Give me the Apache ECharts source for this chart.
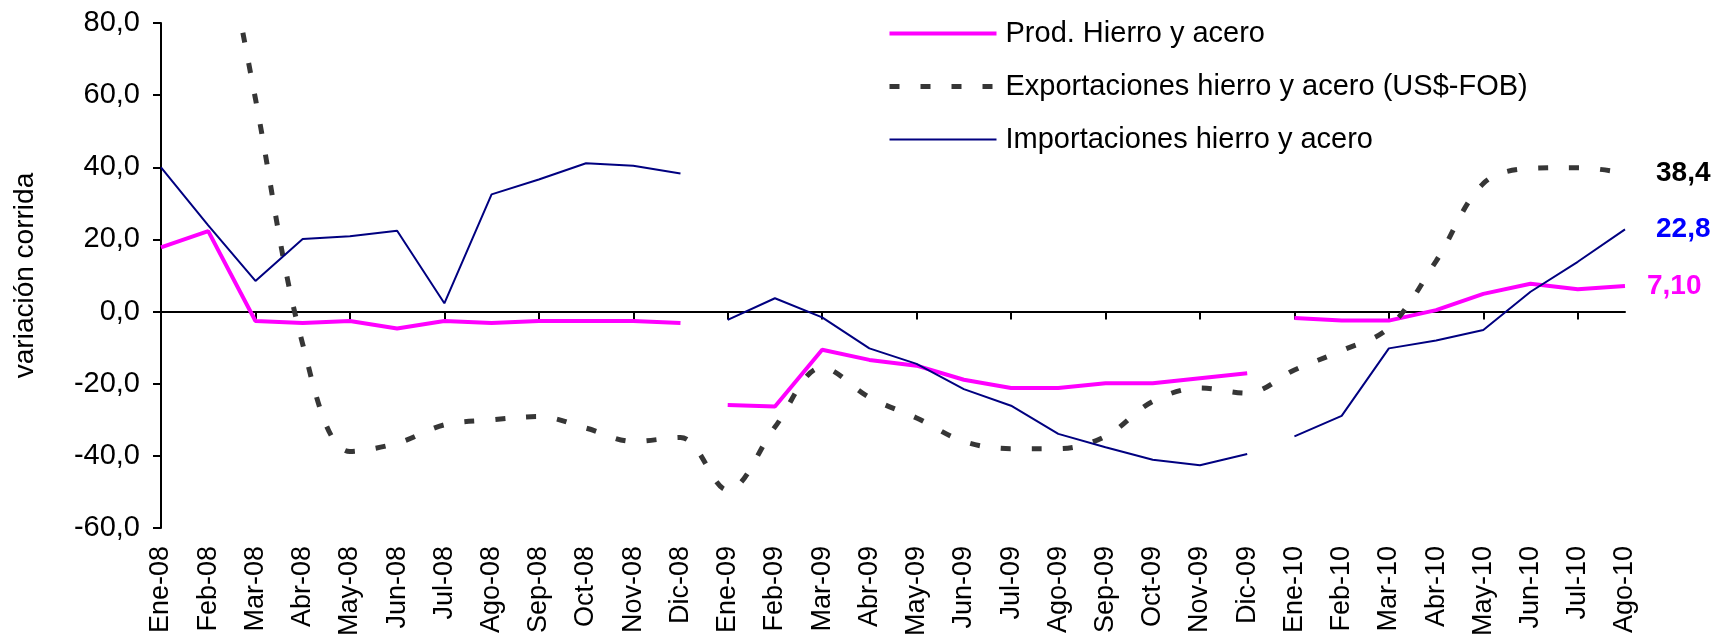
<!DOCTYPE html>
<html>
<head>
<meta charset="utf-8">
<script src="https://cdn.jsdelivr.net/npm/echarts@6/dist/echarts.min.js"></script>
<style>
  html, body { margin: 0; padding: 0; background: #fff; }
  #chart { width: 1718px; height: 643px; }
</style>
</head>
<body>
<div id="chart"></div>
<script>
// meses
const months = [
  'Ene-08', 'Feb-08', 'Mar-08', 'Abr-08', 'May-08', 'Jun-08', 'Jul-08', 'Ago-08', 'Sep-08', 'Oct-08', 'Nov-08', 'Dic-08',
  'Ene-09', 'Feb-09', 'Mar-09', 'Abr-09', 'May-09', 'Jun-09', 'Jul-09', 'Ago-09', 'Sep-09', 'Oct-09', 'Nov-09', 'Dic-09',
  'Ene-10', 'Feb-10', 'Mar-10', 'Abr-10', 'May-10', 'Jun-10', 'Jul-10', 'Ago-10'
];

const prodValues = [
  17.8, 22.3, -2.6, -3.2, -2.6, -4.7, -2.6, -3.2, -2.6, -2.6, -2.6, -3.2,
  -25.9, -26.3, -10.6, -13.4, -15.0, -18.9, -21.2, -21.2, -19.9, -19.9, -18.5, -17.1,
  -1.8, -2.5, -2.5, 0.4, 4.9, 7.7, 6.2, 7.1
];

const exportValues = [
  null, 128, 59, -9, -38.8, -36.5, -31.4, -30.0, -29.1, -32.3, -36.0, -34.9,
  -49.5, -32.0, -15.5, -23.8, -29.5, -36.0, -38.0, -38.0, -34.6, -24.9, -21.2, -22.6,
  -16.2, -10.8, -4.5, 14.0, 35.5, 39.7, 39.9, 38.4
];

const importValues = [
  40.0, 23.9, 8.5, 20.1, 20.9, 22.4, 2.3, 32.5, 36.6, 41.1, 40.4, 38.3,
  -2.3, 3.7, -1.6, -10.2, -14.5, -21.5, -26.1, -33.9, -37.6, -41.1, -42.6, -39.5,
  -34.6, -28.9, -10.2, -8.0, -5.1, 5.5, 13.8, 22.8
];

// tramos por año (prod. e importaciones se cortan entre años)
const yearRanges = [[0, 11], [12, 23], [24, 31]];

const endLabels = { prod: '7,10', exp: '38,4', imp: '22,8' };

const names = {
  prod: 'Prod. Hierro y acero',
  exp: 'Exportaciones hierro y acero (US$-FOB)',
  imp: 'Importaciones hierro y acero'
};

const FONT = '"Liberation Sans", Arial, sans-serif';

function segment(values, from, to) {
  return values.map((v, i) => (i >= from && i <= to ? v : null));
}

function segmentedSeries(name, values, lineStyle, label) {
  return yearRanges.map((r, k) => ({
    name: name,
    type: 'line',
    data: segment(values, r[0], r[1]),
    symbol: 'none',
    connectNulls: false,
    lineStyle: lineStyle,
    itemStyle: { color: lineStyle.color },
    emphasis: { disabled: true },
    endLabel: k === yearRanges.length - 1 ? label : { show: false }
  }));
}

const prodStyle = { color: '#FF00FF', width: 4 };
const impStyle = { color: '#000080', width: 2 };
const expStyle = { color: '#363636', width: 5, type: [10, 21], cap: 'butt' };

const series = [].concat(
  segmentedSeries(names.prod, prodValues, prodStyle, {
    show: true, formatter: endLabels.prod, distance: 22,
    color: '#FF00FF', fontWeight: 'bold', fontSize: 28, fontFamily: FONT
  }),
  [{
    name: names.exp,
    type: 'line',
    data: exportValues,
    symbol: 'none',
    smooth: 0.35,
    lineStyle: expStyle,
    itemStyle: { color: expStyle.color },
    emphasis: { disabled: true },
    endLabel: {
      show: true, formatter: endLabels.exp, distance: 31,
      color: '#000', fontWeight: 'bold', fontSize: 28, fontFamily: FONT
    }
  }],
  segmentedSeries(names.imp, importValues, impStyle, {
    show: true, formatter: endLabels.imp, distance: 31,
    color: '#0000FF', fontWeight: 'bold', fontSize: 28, fontFamily: FONT
  })
);

function legendItem(name, style) {
  return {
    name: name,
    lineStyle: Object.assign({ opacity: 1 }, style),
    itemStyle: { opacity: 0, color: 'transparent', borderWidth: 0 }
  };
}

const option = {
  animation: false,
  backgroundColor: '#fff',
  textStyle: { fontFamily: FONT, color: '#000' },
  grid: {
    left: 161,
    right: 93,
    top: 23,
    bottom: 115,
    containLabel: false,
    outerBoundsMode: 'none'
  },
  legend: {
    data: [
      legendItem(names.prod, prodStyle),
      legendItem(names.exp, expStyle),
      legendItem(names.imp, impStyle)
    ],
    orient: 'vertical',
    left: 887,
    top: 19,
    padding: 0,
    itemWidth: 107,
    itemHeight: 14,
    itemGap: 24,
    selectedMode: false,
    textStyle: { fontSize: 29, fontFamily: FONT, color: '#000', padding: [0, 0, 0, 4] }
  },
  xAxis: [
    {
      type: 'category',
      data: months,
      boundaryGap: false,
      axisLine: { onZero: true, lineStyle: { color: '#000', width: 2 } },
      axisTick: { show: true, length: 8, lineStyle: { color: '#000', width: 2 } },
      axisLabel: { show: false },
      splitLine: { show: false }
    },
    {
      type: 'category',
      data: months,
      position: 'bottom',
      boundaryGap: false,
      axisLine: { show: false, onZero: false },
      axisTick: { show: false },
      axisLabel: {
        show: true,
        rotate: 90,
        interval: 0,
        margin: 18,
        fontSize: 27,
        fontFamily: FONT,
        color: '#000'
      },
      splitLine: { show: false }
    }
  ],
  yAxis: {
    type: 'value',
    min: -60,
    max: 80,
    interval: 20,
    name: 'variación corrida',
    nameLocation: 'middle',
    nameGap: 122,
    nameTextStyle: { fontSize: 28, fontFamily: FONT, color: '#000' },
    axisLine: { show: true, lineStyle: { color: '#000', width: 2 } },
    axisTick: { show: true, length: 8, lineStyle: { color: '#000', width: 2 } },
    splitLine: { show: false },
    axisLabel: {
      margin: 21,
      fontSize: 29,
      fontFamily: FONT,
      color: '#000',
      formatter: v => v.toFixed(1).replace('.', ',')
    }
  },
  series: series
};

const chart = echarts.init(document.getElementById('chart'));
chart.setOption(option);
</script>
</body>
</html>
